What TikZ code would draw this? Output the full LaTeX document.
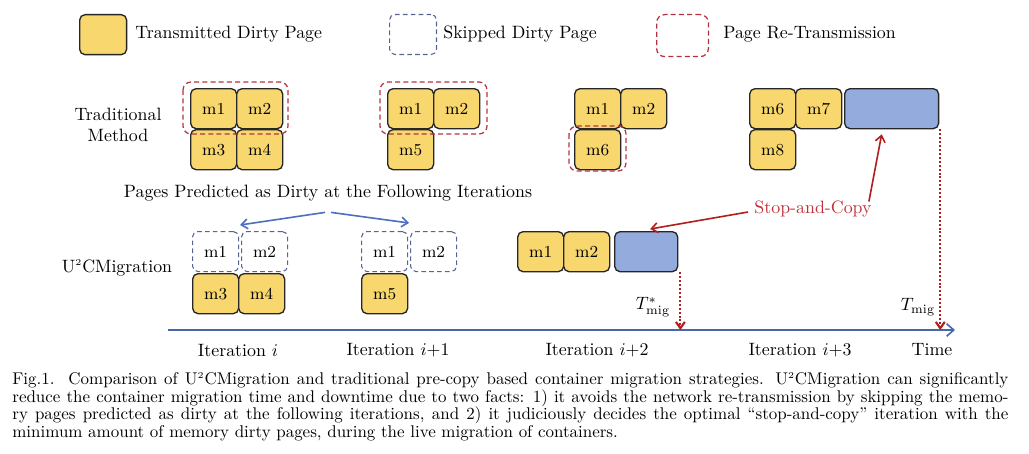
\documentclass[tikz,border=0pt]{standalone}
\usetikzlibrary{arrows.meta,calc}
\definecolor{pgyellow}{HTML}{F8D76F}
\definecolor{pgblue}{HTML}{93ACDD}
\definecolor{skipblue}{HTML}{55658F}
\definecolor{retx}{HTML}{B4323F}
\definecolor{arrred}{HTML}{B01E1E}
\definecolor{axisblue}{HTML}{4667AA}
\definecolor{txtred}{HTML}{C0303A}
\definecolor{predblue}{HTML}{4C6FC0}
\begin{document}
\begin{tikzpicture}[x=0.56pt,y=-0.56pt,
  page/.style={draw=black!85, line width=0.75pt, rounded corners=3pt, fill=pgyellow,
    minimum width=25.76pt, minimum height=22.4pt, inner sep=0pt, font=\fontsize{9.4pt}{11pt}\selectfont, anchor=north west},
  blueblk/.style={page, fill=pgblue},
  skipbox/.style={page, fill=none, draw=skipblue, line width=0.6pt, dash pattern=on 2.6pt off 1.8pt},
  retxbox/.style={draw=retx, line width=0.7pt, dash pattern=on 2.8pt off 1.8pt, rounded corners=4.5pt},
  label/.style={inner sep=0pt, font=\normalsize},
  dotarr/.style={draw=arrred, line width=1.2pt, dash pattern=on 1.1pt off 1.1pt, -{Straight Barb[length=3.5pt,width=5pt]}},
  redarr/.style={draw=arrred, line width=0.9pt, -{Straight Barb[length=3.5pt,width=5.5pt]}},
  bluearr/.style={draw=predblue, line width=0.9pt, -{Straight Barb[length=3.5pt,width=5.5pt]}},
  axisarr/.style={draw=axisblue, line width=0.9pt, -{Straight Barb[length=4pt,width=7pt]}}
]
\useasboundingbox (0,0) rectangle (1029,453);

% legend
\node[page, minimum width=26.3pt] (lgy) at (79,14) {};
\node[label, anchor=west] (lgyt) at (135,34) {Transmitted Dirty Page};
\node[skipbox, minimum width=26.3pt] (lgs) at (389,14) {};
\node[label, anchor=west] (lgst) at (443,34) {Skipped Dirty Page};
\node[retxbox, draw, anchor=north west, minimum width=29pt, minimum height=23.5pt, inner sep=0pt] (lgr) at (656,14) {};
\node[label, anchor=west] (lgrt) at (723,34) {Page Re-Transmission};

% row labels
\node[label, align=center] (trad) at (118,125) {Traditional\\Method};
\node[label] (u2c) at (117,268) {U$^{\scriptscriptstyle 2}$CMigration};

% traditional, iteration i
\node[page] (a1) at (190,88) {m1};
\node[page] (a2) at (236,88) {m2};
\node[page] (a3) at (190,129) {m3};
\node[page] (a4) at (236,129) {m4};
% iteration i+1
\node[page] (b1) at (387,88) {m1};
\node[page] (b2) at (433,88) {m2};
\node[page] (b5) at (387,129) {m5};
% iteration i+2
\node[page] (c1) at (574,88) {m1};
\node[page] (c2) at (620,88) {m2};
\node[page] (c6) at (574,129) {m6};
% iteration i+3
\node[page] (d6) at (749,88) {m6};
\node[page] (d7) at (795,88) {m7};
\node[blueblk, minimum width=52.6pt] (tblue) at (844,88) {};
\node[page] (d8) at (749,129) {m8};

% re-transmission groups
\draw[retxbox] (183,82) rectangle (288,134);
\draw[retxbox] (380,82) rectangle (487,134);
\draw[retxbox] (569,126) rectangle (626,171);

% U2CMigration, iteration i
\node[skipbox] (e1) at (192,231) {m1};
\node[skipbox] (e2) at (241,231) {m2};
\node[page] (e3) at (192,273) {m3};
\node[page] (e4) at (238,273) {m4};
% iteration i+1
\node[skipbox] (f1) at (361,231) {m1};
\node[skipbox] (f2) at (410,231) {m2};
\node[page] (f5) at (361,273) {m5};
% iteration i+2
\node[page] (g1) at (517,231) {m1};
\node[page] (g2) at (563,231) {m2};
\node[blueblk, minimum width=35.3pt] (ublue) at (614,231) {};

% predicted pages
\node[label] (pp) at (328,193) {Pages Predicted as Dirty at the Following Iterations};
\coordinate (ppl) at ($(pp.south)+(-3,11)$);
\coordinate (ppr) at ($(pp.south)+(3,11)$);
\coordinate (ppA) at ($(e1.north east)!0.5!(e2.north west)+(0,-6)$);
\coordinate (ppB) at ($(f1.north east)!0.5!(f2.north west)+(0,-8)$);
\draw[bluearr] (ppl) -- (ppA);
\draw[bluearr] (ppr) -- (ppB);

% stop-and-copy
\node[label, text=txtred] (sc) at (813,209) {Stop-and-Copy};
\draw[redarr] ($(sc.west)+(-6,3)$) -- ($(ublue.north)+(4,-2)$);
\draw[redarr] ($(sc.north east)+(-3,1)$) -- ($(tblue.south)+(-10,5)$);

% time axis
\coordinate (ax0) at (168,330);
\coordinate (ax1) at (955,330);
\draw[axisarr] (ax0) -- (ax1);
\coordinate (us) at ($(ublue.south east)+(2,0)$);
\coordinate (ts) at ($(tblue.south east)+(1,0)$);
\draw[dotarr] (us) -- (us |- ax0);
\draw[dotarr] (ts) -- (ts |- ax0);
\node[label] (tstar) at (653,307) {$T^{*}_{\mathrm{mig}}$};
\node[label] (tmig) at (918,307) {$T_{\mathrm{mig}}$};

% iteration labels
\node[label] (it0) at (238,350) {Iteration $i$};
\node[label] (it1) at (398,350) {Iteration $i{+}1$};
\node[label] (it2) at (597,350) {Iteration $i{+}2$};
\node[label] (it3) at (800,350) {Iteration $i{+}3$};
\node[label] (time) at (932,350) {Time};

% caption
\node[anchor=north west, inner sep=0pt, align=left, font=\fontsize{9.5pt}{9.8pt}\selectfont] (cap) at (12,372) {%
\makebox[557.8pt][s]{Fig.1.\ \ Comparison of U$^{\scriptscriptstyle 2}$CMigration and traditional pre-copy based container migration strategies. U$^{\scriptscriptstyle 2}$CMigration can significantly}\\
\makebox[557.8pt][s]{reduce the container migration time and downtime due to two facts: 1) it avoids the network re-transmission by skipping the memo-}\\
\makebox[557.8pt][s]{ry pages predicted as dirty at the following iterations, and 2) it judiciously decides the optimal ``stop-and-copy'' iteration with the}\\
minimum amount of memory dirty pages, during the live migration of containers.};
\end{tikzpicture}
\end{document}
